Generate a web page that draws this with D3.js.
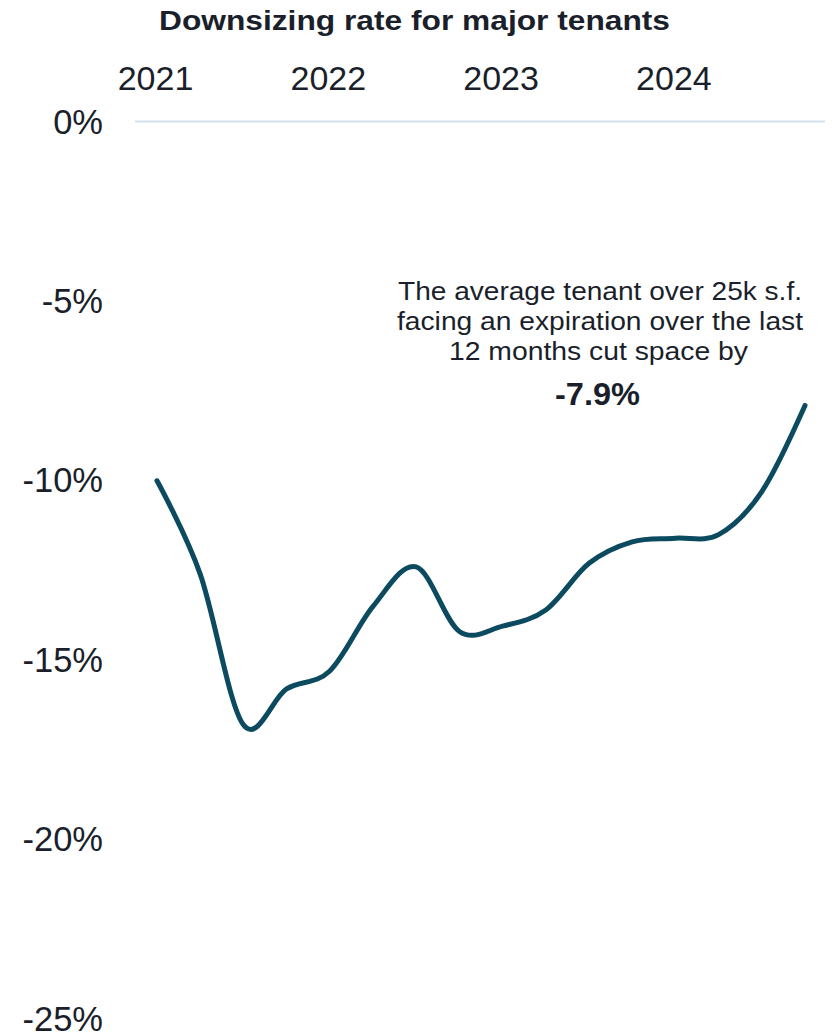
<!DOCTYPE html>
<html>
<head>
<meta charset="utf-8">
<script src="https://cdn.jsdelivr.net/npm/d3@7"></script>
<style>
  html, body { margin: 0; padding: 0; background: #ffffff; }
  svg { display: block; font-family: "Liberation Sans", Arial, sans-serif; }
</style>
</head>
<body>
<svg id="chart" width="834" height="1035"></svg>
<script>
// Quarterly downsizing rate (%), 2021 Q1 – 2024 Q4
const quarters = ["2021Q1","2021Q2","2021Q3","2021Q4","2022Q1","2022Q2","2022Q3","2022Q4",
                  "2023Q1","2023Q2","2023Q3","2023Q4","2024Q1","2024Q2","2024Q3","2024Q4"];
const rates = [-10.0, -12.6, -16.8, -15.8, -15.3, -13.5, -12.4, -14.2,
               -14.05, -13.6, -12.3, -11.7, -11.6, -11.5, -10.3, -7.9];
const yearLabels = ["2021", "2022", "2023", "2024"];
const yTicks = [0, -5, -10, -15, -20, -25];
const latestValue = rates[rates.length - 1];
const noteLines = ["The average tenant over 25k s.f.",
                   "facing an expiration over the last",
                   "12 months cut space by"];
const noteWidths = [404, 406, 299];

const svg = d3.select("#chart");
const textColor = "#1a1f2b";
const lineColor = "#0b4a5f";

const x = d3.scaleLinear().domain([0, quarters.length - 1]).range([157, 805]);
const y = d3.scaleLinear().domain([0, -25]).range([122, 1019]);

// Title
svg.append("text")
  .attr("x", 414.5).attr("y", 30)
  .attr("text-anchor", "middle")
  .attr("font-size", 28).attr("font-weight", "bold")
  .attr("textLength", 511).attr("lengthAdjust", "spacingAndGlyphs")
  .attr("fill", textColor)
  .text("Downsizing rate for major tenants");

// Year labels across the top, one per Q1
svg.append("g").selectAll("text")
  .data(yearLabels)
  .join("text")
  .attr("x", (d, i) => x(i * 4) - 1.5)
  .attr("y", 90)
  .attr("text-anchor", "middle")
  .attr("font-size", 34)
  .attr("fill", textColor)
  .text(d => d);

// Y axis labels
const yAxis = d3.axisLeft(y)
  .tickValues(yTicks)
  .tickSize(0)
  .tickPadding(0)
  .tickFormat(d => d + "%");
const yg = svg.append("g").attr("transform", "translate(103,0)").call(yAxis);
yg.select(".domain").remove();
yg.selectAll("text")
  .attr("font-size", 34.5)
  .attr("font-family", "'Liberation Sans', Arial, sans-serif")
  .attr("fill", textColor)
  .attr("dy", "0.32em");

// Zero gridline
svg.append("line")
  .attr("x1", 135).attr("x2", 825)
  .attr("y1", y(0) - 0.5).attr("y2", y(0) - 0.5)
  .attr("stroke", "#d5dfe8").attr("stroke-width", 2);

// Smoothed line
const line = d3.line()
  .x((d, i) => x(i))
  .y(d => y(d))
  .curve(d3.curveCardinal.tension(0));
svg.append("path")
  .datum(rates)
  .attr("d", line)
  .attr("fill", "none")
  .attr("stroke", lineColor)
  .attr("stroke-width", 5)
  .attr("stroke-linecap", "round");

// Annotation
const note = svg.append("text")
  .attr("text-anchor", "middle")
  .attr("font-size", 25)
  .attr("fill", textColor);
noteLines.forEach((t, i) => {
  note.append("tspan")
    .attr("x", i === 2 ? 598.5 : 600)
    .attr("y", 300 + i * 30)
    .attr("textLength", noteWidths[i])
    .attr("lengthAdjust", "spacingAndGlyphs")
    .text(t);
});
svg.append("text")
  .attr("x", 597.5).attr("y", 405)
  .attr("text-anchor", "middle")
  .attr("font-size", 31).attr("font-weight", "bold")
  .attr("textLength", 85).attr("lengthAdjust", "spacingAndGlyphs")
  .attr("fill", textColor)
  .text(latestValue.toFixed(1) + "%");
</script>
</body>
</html>
